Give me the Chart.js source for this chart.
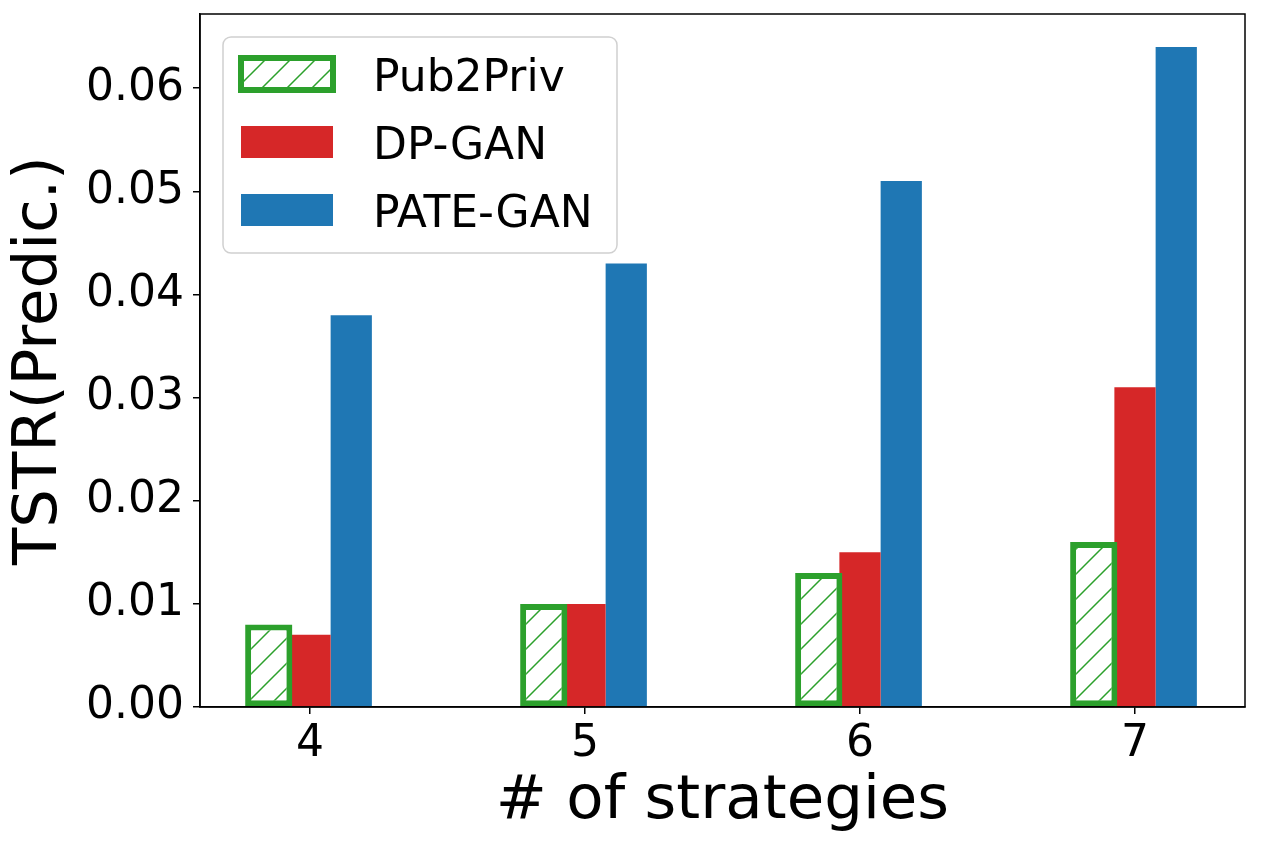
<!DOCTYPE html>
<html>
<head>
<meta charset="utf-8">
<script src="https://cdn.jsdelivr.net/npm/chart.js@4/dist/chart.umd.min.js"></script>
<style>
  html, body { margin: 0; padding: 0; background: #fff; }
  #wrap { width: 1261px; height: 850px; position: relative; }
</style>
</head>
<body>
<div id="wrap"><canvas id="c" width="1261" height="850"></canvas></div>
<script>
// ---- data ----
const categories = [4, 5, 6, 7];
const yTicks = [0, 0.01, 0.02, 0.03, 0.04, 0.05, 0.06];
const seriesNames = ['Pub2Priv', 'DP-GAN', 'PATE-GAN'];
const pub2priv = [0.008, 0.010, 0.013, 0.016];
const dpGan = [0.007, 0.010, 0.015, 0.031];
const pateGan = [0.038, 0.043, 0.051, 0.064];

const GREEN = '#2ca02c', RED = '#d62728', BLUE = '#1f77b4';
const FONT = "'DejaVu Sans', sans-serif";

function makeHatch(color) {
  const s = 25;
  const c = document.createElement('canvas');
  c.width = s; c.height = s;
  const g = c.getContext('2d');
  g.fillStyle = '#fff';
  g.fillRect(0, 0, s, s);
  g.strokeStyle = color;
  g.lineWidth = 1.5;
  g.beginPath();
  g.moveTo(-2, s + 2); g.lineTo(s + 2, -2);
  g.moveTo(-2, 2); g.lineTo(2, -2);
  g.moveTo(s - 2, s + 2); g.lineTo(s + 2, s - 2);
  g.stroke();
  return g.createPattern(c, 'repeat');
}
const hatch = makeHatch(GREEN);

const legendPlugin = {
  id: 'boxLegend',
  afterDraw(chart) {
    const ctx = chart.ctx;
    const a = chart.chartArea;
    const x0 = a.left + 23, y0 = a.top + 23, w = 394, h = 216;
    ctx.save();
    ctx.beginPath();
    if (ctx.roundRect) ctx.roundRect(x0, y0, w, h, 8); else ctx.rect(x0, y0, w, h);
    ctx.fillStyle = 'rgba(255,255,255,0.8)';
    ctx.fill();
    ctx.lineWidth = 1.5;
    ctx.strokeStyle = '#d0d0d0';
    ctx.stroke();
    chart.data.datasets.forEach((ds, i) => {
      const px = x0 + 18, py = y0 + 21 + i * 68, pw = 92, ph = 32;
      if (i === 0) {
        ctx.fillStyle = hatch;
        ctx.fillRect(px, py, pw, ph);
        ctx.lineWidth = 6;
        ctx.strokeStyle = GREEN;
        ctx.strokeRect(px, py, pw, ph);
      } else {
        ctx.fillStyle = ds.backgroundColor;
        ctx.fillRect(px, py, pw, ph);
      }
      ctx.fillStyle = '#000';
      ctx.font = '44px ' + FONT;
      ctx.textBaseline = 'alphabetic';
      ctx.textAlign = 'left';
      ctx.fillText(ds.label, x0 + 150, py + ph / 2 + 17);
    });
    ctx.restore();
  }
};

const framePlugin = {
  id: 'frame',
  afterDatasetsDraw(chart) {
    const ctx = chart.ctx, a = chart.chartArea;
    ctx.save();
    ctx.strokeStyle = '#000';
    ctx.lineWidth = 1.5;
    ctx.strokeRect(a.left, a.top, a.right - a.left, a.bottom - a.top);
    ctx.restore();
  }
};

new Chart(document.getElementById('c'), {
  type: 'bar',
  data: {
    labels: categories,
    datasets: [
      { label: seriesNames[0], data: pub2priv, backgroundColor: hatch, borderColor: GREEN,
        borderWidth: 6, borderSkipped: false, barPercentage: 1.145, inflateAmount: 0 },
      { label: seriesNames[1], data: dpGan, backgroundColor: RED, borderWidth: 0, barPercentage: 1.0 },
      { label: seriesNames[2], data: pateGan, backgroundColor: BLUE, borderWidth: 0, barPercentage: 1.0 }
    ]
  },
  options: {
    responsive: false,
    animation: false,
    devicePixelRatio: 1,
    layout: { padding: { left: 0, top: 14, right: 16, bottom: 0 } },
    datasets: { bar: { categoryPercentage: 0.45, grouped: true } },
    plugins: { legend: { display: false }, tooltip: { enabled: false } },
    scales: {
      x: {
        type: 'linear',
        min: 3.6, max: 7.4,
        offset: false,
        afterBuildTicks(scale) { scale.ticks = categories.map(v => ({ value: v })); },
        afterFit(scale) { scale.height = 143; scale.paddingLeft = 0; scale.paddingRight = 0; },
        ticks: { color: '#000', font: { family: FONT, size: 44 }, padding: 4,
                 callback: v => String(v), maxRotation: 0, autoSkip: false },
        grid: { offset: false, drawOnChartArea: false, drawTicks: true, tickLength: 7, color: '#000', lineWidth: 1.5 },
        border: { display: true, color: '#000', width: 1.5 },
        title: { display: true, text: '# of strategies', color: '#000',
                 font: { family: FONT, size: 61 }, padding: { top: 0, bottom: 11 } }
      },
      y: {
        min: 0, max: 0.0672,
        afterBuildTicks(scale) { scale.ticks = yTicks.map(v => ({ value: v })); },
        afterFit(scale) { scale.width = 200; scale.paddingTop = 0; scale.paddingBottom = 0; },
        ticks: { color: '#000', font: { family: FONT, size: 44 }, padding: 9,
                 callback: v => Number(v).toFixed(2) },
        grid: { drawOnChartArea: false, drawTicks: true, tickLength: 7, color: '#000', lineWidth: 1.5 },
        border: { display: true, color: '#000', width: 1.5 },
        title: { display: true, text: 'TSTR(Predic.)', color: '#000',
                 font: { family: FONT, size: 61 }, padding: { top: 4, bottom: 0 } }
      }
    }
  },
  plugins: [framePlugin, legendPlugin]
});
</script>
</body>
</html>
